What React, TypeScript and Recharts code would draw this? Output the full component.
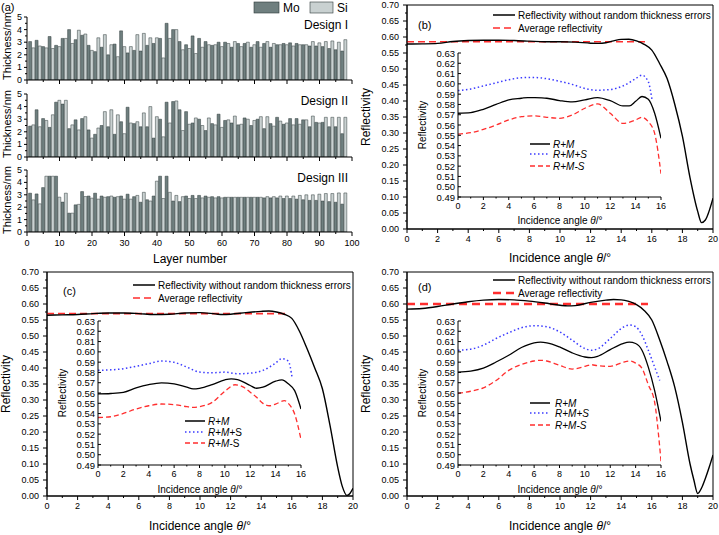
import React from 'react';
import { LineChart, Line, XAxis, YAxis, BarChart, Bar, ReferenceArea } from 'recharts';

const FONT = '"Liberation Sans", Arial, Helvetica, sans-serif';
const MO_COLOR = '#6f7f7f';
const SI_COLOR = '#c9d1d1';
const BAR_EDGE = '#2e3a3a';
const RED = '#ff2e2e';
const BLUE = '#3a3aff';

// ---------------- Panel (a): layer thickness (nm), odd layers Mo, even layers Si ----------------
const designI = [
  3.05, 2.55, 3.15, 2.7, 2.65, 2.55, 3.45, 2.5, 2.75, 2.65,
  3.3, 3.3, 4.0, 2.9, 3.2, 3.95, 3.55, 3.65, 2.75, 2.35,
  2.25, 3.35, 2.6, 3.6, 2.0, 2.8, 2.85, 1.85, 3.9, 2.65,
  2.15, 2.65, 2.35, 3.6, 2.3, 3.7, 2.75, 3.35, 2.9, 3.35,
  3.3, 1.75, 4.5, 3.3, 4.0, 4.0, 3.05, 2.4, 2.8, 2.5,
  3.5, 2.1, 3.3, 2.6, 3.05, 2.8, 2.75, 2.8, 3.0, 2.65,
  3.0, 2.9, 2.6, 3.05, 2.9, 2.65, 2.9, 3.0, 2.6, 2.8,
  3.05, 2.6, 2.9, 3.05, 2.6, 2.9, 2.8, 2.8, 2.9, 2.8,
  2.95, 2.7, 2.9, 2.8, 2.8, 2.8, 2.7, 3.05, 2.7, 2.95,
  2.65, 3.05, 2.5, 3.1, 2.4, 3.0, 2.3, 3.2,
];
const designII = [
  2.45, 2.55, 3.75, 2.4, 3.05, 2.9, 2.35, 3.35, 4.35, 4.5,
  4.2, 4.5, 2.25, 2.55, 2.95, 2.15, 3.05, 3.2, 2.15, 1.5,
  1.8, 2.3, 2.5, 3.6, 2.4, 3.75, 1.8, 3.35, 2.8, 1.85,
  3.95, 2.7, 2.65, 2.8, 2.4, 3.5, 2.4, 4.0, 1.5, 3.2,
  3.0, 1.6, 4.35, 2.7, 4.4, 4.45, 3.75, 2.1, 3.6, 2.6,
  2.7, 3.1, 3.0, 2.5, 2.1, 3.1, 2.65, 2.55, 3.4, 2.35,
  2.9, 2.95, 2.7, 3.25, 2.55, 2.6, 3.1, 3.0, 2.5, 2.9,
  3.0, 3.2, 2.25, 3.2, 2.65, 2.45, 3.15, 2.85, 2.6, 2.7,
  3.05, 2.55, 3.05, 2.6, 2.95, 2.95, 2.4, 3.25, 2.75, 2.7,
  2.75, 3.15, 2.4, 3.15, 2.4, 3.15, 1.85, 3.15,
];
const designIII = [
  3.13, 2.59, 3.07, 2.27, 3.58, 4.5, 4.5, 4.5, 4.5, 2.81,
  2.41, 3.13, 1.52, 1.52, 2.19, 2.23, 3.26, 2.86, 2.9, 2.73,
  3.13, 2.65, 2.9, 2.8, 2.85, 2.9, 2.8, 2.85, 2.9, 2.65,
  3.05, 2.65, 2.85, 2.95, 2.4, 3.2, 2.6, 2.5, 2.9, 4.1,
  4.5, 2.7, 4.5, 3.2, 2.5, 2.95, 2.45, 2.85, 2.9, 2.7,
  2.95, 2.7, 2.95, 2.75, 2.9, 2.8, 2.85, 2.75, 2.85, 2.75,
  2.8, 2.8, 2.8, 2.8, 2.8, 2.8, 2.8, 2.8, 2.8, 2.8,
  2.8, 2.8, 2.75, 2.85, 2.75, 2.85, 2.75, 2.9, 2.7, 2.9,
  2.7, 2.9, 2.65, 2.95, 2.6, 3.0, 2.55, 3.0, 2.55, 3.05,
  2.5, 3.1, 2.45, 3.1, 2.4, 3.15, 2.25, 3.15,
];
const layerTicks = [0, 5, 10, 15, 20, 25, 30, 35, 40, 45, 50, 55, 60, 65, 70, 75, 80, 85, 90, 95, 100];
const layerLabels = [0, 10, 20, 30, 40, 50, 60, 70, 80, 90, 100];
const thicknessTicks = [0, 0.5, 1, 1.5, 2, 2.5, 3, 3.5, 4, 4.5, 5];
const thicknessLabels = [0, 1, 2, 3, 4, 5];

// ---------------- Panels (b)-(d) ----------------
const mainAngleTicks = [0, 1, 2, 3, 4, 5, 6, 7, 8, 9, 10, 11, 12, 13, 14, 15, 16, 17, 18, 19, 20];
const mainAngleLabels = [0, 2, 4, 6, 8, 10, 12, 14, 16, 18, 20];
const mainReflTicks = [0, 0.025, 0.05, 0.075, 0.1, 0.125, 0.15, 0.175, 0.2, 0.225, 0.25, 0.275, 0.3, 0.325, 0.35,
  0.375, 0.4, 0.425, 0.45, 0.475, 0.5, 0.525, 0.55, 0.575, 0.6, 0.625, 0.65, 0.675, 0.7];
const mainReflLabels = [0, 0.05, 0.1, 0.15, 0.2, 0.25, 0.3, 0.35, 0.4, 0.45, 0.5, 0.55, 0.6, 0.65, 0.7];
const insetAngleTicks = [0, 1, 2, 3, 4, 5, 6, 7, 8, 9, 10, 11, 12, 13, 14, 15, 16];
const insetAngleLabels = [0, 2, 4, 6, 8, 10, 12, 14, 16];
const insetReflTicks = [0.49, 0.5, 0.51, 0.52, 0.53, 0.54, 0.55, 0.56, 0.57, 0.58, 0.59, 0.6, 0.61, 0.62, 0.63];
const insetReflLabels = ['0.49', '0.50', '0.51', '0.52', '0.53', '0.54', '0.55', '0.56', '0.57', '0.58', '0.59', '0.60', '0.61', '0.62', '0.63'];
const insetReflLabelsC = ['0.49', '0.50', '0.51', '0.52', '0.53', '0.54', '0.55', '0.56', '0.57', '0.58', '0.59', '0.60', '0.81', '0.62', '0.63'];

// (b)
const bAngles = [0, 1, 2, 3, 4, 5, 6, 7, 8, 9, 10, 11, 12, 12.5, 13, 13.5, 14, 14.5, 15, 15.5, 16, 16.5, 17, 17.5, 18, 18.5, 19, 19.25, 19.5, 20];
const bRefl = [0.578, 0.5785, 0.58, 0.586, 0.589, 0.59, 0.59, 0.589, 0.587, 0.585, 0.585, 0.584, 0.5805, 0.58, 0.582, 0.588, 0.5925, 0.593, 0.588, 0.577, 0.559, 0.518, 0.47, 0.39, 0.29, 0.16, 0.055, 0.02, 0.028, 0.096];
const bAvgAngles = [0, 15.75];
const bAvgRefl = [0.585, 0.585];
const bPlusSAngles = [0, 1, 2, 3, 4, 5, 6, 7, 8, 9, 10, 11, 12, 13, 14, 14.5, 15, 15.3];
const bPlusS = [0.5935, 0.595, 0.598, 0.601, 0.604, 0.606, 0.6062, 0.605, 0.6025, 0.5995, 0.5955, 0.5938, 0.5945, 0.598, 0.605, 0.6085, 0.602, 0.584];
const bRMAngles = [0, 1, 2, 3, 4, 5, 5.5, 6, 7, 8, 9, 10, 11, 12, 13, 13.5, 14, 14.5, 15, 15.5, 16];
const bRM = [0.5714, 0.572, 0.5753, 0.58, 0.5844, 0.586, 0.5867, 0.5866, 0.586, 0.5838, 0.5824, 0.5844, 0.5867, 0.5837, 0.5785, 0.5785, 0.583, 0.5877, 0.585, 0.5714, 0.547];
const bMinusSAngles = [0, 1, 2, 3, 4, 5, 6, 7, 8, 9, 10, 11, 12, 13, 14, 14.5, 15, 15.5, 16];
const bMinusS = [0.5512, 0.5525, 0.5557, 0.56, 0.5649, 0.5681, 0.5688, 0.5675, 0.5665, 0.5697, 0.5763, 0.5805, 0.5714, 0.5616, 0.5649, 0.5675, 0.5632, 0.5518, 0.5127];

// (c)
const cAngles = [0, 1, 2, 3, 4, 5, 6, 7, 8, 9, 10, 11, 11.5, 12, 13, 14, 14.5, 15, 15.5, 16, 16.5, 17, 17.5, 18, 18.5, 19, 19.3, 19.6, 19.8, 20];
const cRefl = [0.565, 0.566, 0.567, 0.57, 0.572, 0.572, 0.57, 0.567, 0.568, 0.572, 0.573, 0.569, 0.567, 0.568, 0.573, 0.577, 0.578, 0.575, 0.568, 0.555, 0.515, 0.46, 0.4, 0.335, 0.22, 0.09, 0.03, 0.002, 0.008, 0.024];
const cAvgAngles = [0, 15.75];
const cAvgRefl = [0.57, 0.57];
const cPlusSAngles = [0, 1, 2, 3, 4, 5, 6, 7, 8, 9, 10, 11, 12, 13, 14, 14.5, 15, 15.3];
const cPlusS = [0.582, 0.5825, 0.5836, 0.586, 0.5885, 0.5911, 0.5898, 0.5852, 0.5803, 0.5797, 0.5803, 0.5787, 0.5793, 0.582, 0.5891, 0.5934, 0.5911, 0.5748];
const cRMAngles = [0, 1, 2, 3, 4, 5, 6, 7, 7.5, 8, 9, 10, 10.5, 11, 12, 12.5, 13, 14, 14.5, 15, 15.5, 16];
const cRM = [0.5591, 0.5595, 0.5607, 0.565, 0.5682, 0.5699, 0.5689, 0.5656, 0.564, 0.5646, 0.5682, 0.5728, 0.5738, 0.5731, 0.5673, 0.5646, 0.5656, 0.5715, 0.5728, 0.5689, 0.5623, 0.5444];
const cMinusSAngles = [0, 1, 2, 3, 4, 5, 6, 7, 7.5, 8, 9, 10, 10.8, 11.5, 12, 12.5, 13, 13.5, 14, 14.7, 15, 15.5, 16];
const cMinusS = [0.5362, 0.5369, 0.5401, 0.5444, 0.5476, 0.5493, 0.5487, 0.5467, 0.546, 0.5467, 0.5509, 0.5617, 0.568, 0.5655, 0.5607, 0.5558, 0.5499, 0.5476, 0.5493, 0.5525, 0.5499, 0.5395, 0.515];

// (d)
const dAngles = [0, 1, 2, 3, 4, 5, 6, 7, 8, 9, 10, 10.5, 11, 12, 13, 13.5, 14, 14.5, 15, 15.5, 16, 16.5, 17, 17.5, 18, 18.5, 18.75, 19, 19.25, 19.5, 19.75, 20];
const dRefl = [0.584, 0.586, 0.592, 0.6, 0.607, 0.612, 0.614, 0.613, 0.609, 0.603, 0.596, 0.594, 0.595, 0.605, 0.612, 0.614, 0.613, 0.608, 0.598, 0.58, 0.55, 0.49, 0.42, 0.34, 0.23, 0.1, 0.05, 0.008, 0.025, 0.055, 0.09, 0.128];
const dAvgAngles = [0, 15.75];
const dAvgRefl = [0.6, 0.6];
const dPlusSAngles = [0, 1, 2, 3, 4, 5, 6, 7, 8, 9, 10, 10.5, 11, 12, 13, 13.5, 14, 14.5, 15, 15.5, 15.9];
const dPlusS = [0.6016, 0.6026, 0.6065, 0.613, 0.6186, 0.6235, 0.6254, 0.6244, 0.6195, 0.6114, 0.6032, 0.6016, 0.6029, 0.613, 0.6238, 0.6261, 0.6244, 0.6163, 0.6016, 0.5852, 0.5722];
const dRMAngles = [0, 1, 2, 3, 4, 5, 6, 6.5, 7, 8, 9, 10, 10.5, 11, 12, 13, 13.5, 14, 14.5, 15, 15.5, 16];
const dRM = [0.5803, 0.5813, 0.5842, 0.5901, 0.5967, 0.6042, 0.6088, 0.6094, 0.6088, 0.6048, 0.599, 0.595, 0.5944, 0.5957, 0.6022, 0.6081, 0.6094, 0.6081, 0.6016, 0.5852, 0.5624, 0.5323];
const dMinusSAngles = [0, 1, 2, 3, 4, 5, 6, 6.5, 7, 8, 9, 10, 10.5, 11, 12, 13, 13.5, 14, 14.5, 15, 15.5, 15.8, 16];
const dMinusS = [0.5597, 0.5617, 0.565, 0.5722, 0.582, 0.5878, 0.5911, 0.5918, 0.5911, 0.5869, 0.5833, 0.5859, 0.5875, 0.5865, 0.5859, 0.5898, 0.5911, 0.5891, 0.584, 0.568, 0.551, 0.52, 0.4937];

// ---------------- helpers ----------------
const pts = (xs: number[], ys: number[]) => xs.map((x, i) => ({ x, y: ys[i] }));
const near = (a: number, b: number) => Math.abs(a - b) < 1e-6;
const inList = (list: number[], v: number) => list.some((m) => near(m, v));

type TickCfg = {
  majors: number[];
  label: ((v: number) => string) | null;
  majorLen: number;
  minorLen: number;
  outward: boolean;
  gap: number;
  fontSize: number;
};

function bottomTick(cfg: TickCfg) {
  return (props: any) => {
    const { x, y, payload } = props;
    const v = Number(payload.value);
    const major = inList(cfg.majors, v);
    const len = major ? cfg.majorLen : cfg.minorLen;
    const s = cfg.outward ? 1 : -1;
    return (
      <g>
        {len > 0 && <line x1={x} x2={x} y1={y} y2={y + s * len} stroke="#000" strokeWidth={1} />}
        {major && cfg.label ? (
          <text x={x} y={y + cfg.gap} textAnchor="middle" dominantBaseline="central" fontSize={cfg.fontSize} fontFamily={FONT} fill="#000">
            {cfg.label(v)}
          </text>
        ) : null}
      </g>
    );
  };
}

function leftTick(cfg: TickCfg) {
  return (props: any) => {
    const { x, y, payload } = props;
    const v = Number(payload.value);
    const major = inList(cfg.majors, v);
    const len = major ? cfg.majorLen : cfg.minorLen;
    const s = cfg.outward ? 1 : -1;
    return (
      <g>
        {len > 0 && <line x1={x} x2={x - s * len} y1={y} y2={y} stroke="#000" strokeWidth={1} />}
        {major && cfg.label ? (
          <text x={x - cfg.gap} y={y} textAnchor="end" dominantBaseline="central" fontSize={cfg.fontSize} fontFamily={FONT} fill="#000">
            {cfg.label(v)}
          </text>
        ) : null}
      </g>
    );
  };
}

const mainXTick = bottomTick({ majors: mainAngleLabels, label: (v) => String(v), majorLen: 4, minorLen: 2, outward: true, gap: 10, fontSize: 9 });
const mainYTick = leftTick({ majors: mainReflLabels, label: (v) => v.toFixed(2), majorLen: 4, minorLen: 2, outward: true, gap: 8, fontSize: 9 });
const insetXTick = bottomTick({ majors: insetAngleLabels, label: (v) => String(v), majorLen: 3, minorLen: 1.5, outward: true, gap: 9, fontSize: 9 });
const insetYTick = (labels: string[]) =>
  leftTick({
    majors: insetReflTicks,
    label: (v) => labels[insetReflTicks.findIndex((t) => near(t, v))],
    majorLen: 3, minorLen: 0, outward: false, gap: 3, fontSize: 9.5,
  });
const barXTickNoLabel = bottomTick({ majors: layerLabels, label: null, majorLen: 4, minorLen: 2, outward: true, gap: 11, fontSize: 9 });
const barXTickLabel = bottomTick({ majors: layerLabels, label: (v) => String(v), majorLen: 4, minorLen: 2, outward: true, gap: 11, fontSize: 9 });
const barYTick = leftTick({ majors: thicknessLabels, label: (v) => String(v), majorLen: 3, minorLen: 2, outward: true, gap: 5, fontSize: 9 });

// ---------------- components ----------------
function ThicknessPanel({ top, values, height, xHeight, labels }: { top: number; values: number[]; height: number; xHeight: number; labels: boolean }) {
  const rows = values.map((v, i) => ({
    layer: i + 1,
    mo: (i + 1) % 2 === 1 ? v : null,
    si: (i + 1) % 2 === 0 ? v : null,
  }));
  return (
    <div style={{ position: 'absolute', left: 0, top }}>
      <BarChart width={366} height={height} data={rows} margin={{ top: 7, right: 14, bottom: 0, left: 0 }} barGap={0}>
        <XAxis type="number" dataKey="layer" domain={[0, 100]} ticks={layerTicks} interval={0} tickSize={0} tickMargin={0}
          tickLine={false} axisLine={{ stroke: '#000' }} height={xHeight} tick={labels ? barXTickLabel : barXTickNoLabel} allowDataOverflow />
        <YAxis type="number" domain={[0, 5]} ticks={thicknessTicks} interval={0} tickSize={0} tickMargin={0}
          tickLine={false} axisLine={{ stroke: '#000' }} width={27} tick={barYTick} allowDataOverflow />
        <Bar dataKey="mo" stackId="t" fill={MO_COLOR} stroke={BAR_EDGE} strokeWidth={0.5} barSize={3.4} isAnimationActive={false} />
        <Bar dataKey="si" stackId="t" fill={SI_COLOR} stroke={BAR_EDGE} strokeWidth={0.5} barSize={3.4} isAnimationActive={false} />
      </BarChart>
    </div>
  );
}

function MainPanel({ left, top, curve, avg, avgWidth, avgDash }: any) {
  return (
    <div style={{ position: 'absolute', left, top }}>
      <LineChart width={359} height={259} margin={{ top: 5, right: 6, bottom: 0, left: 0 }}>
        <XAxis type="number" dataKey="x" domain={[0, 20]} ticks={mainAngleTicks} interval={0} tickSize={0} tickMargin={0}
          tickLine={false} axisLine={{ stroke: '#000' }} height={30} tick={mainXTick} allowDataOverflow />
        <YAxis type="number" domain={[0, 0.7]} ticks={mainReflTicks} interval={0} tickSize={0} tickMargin={0}
          tickLine={false} axisLine={{ stroke: '#000' }} width={47} tick={mainYTick} allowDataOverflow />
        <ReferenceArea x1={0} x2={20} y1={0} y2={0.7} fill="none" fillOpacity={0} stroke="#000" strokeWidth={1} ifOverflow="visible" />
        <Line data={avg} dataKey="y" type="linear" stroke={RED} strokeWidth={avgWidth} strokeDasharray={avgDash} dot={false} isAnimationActive={false} />
        <Line data={curve} dataKey="y" type="monotone" stroke="#000" strokeWidth={1.4} dot={false} isAnimationActive={false} />
      </LineChart>
    </div>
  );
}

function InsetPanel({ left, top, rm, plus, minus, labels }: any) {
  return (
    <div style={{ position: 'absolute', left, top }}>
      <LineChart width={256} height={182} margin={{ top: 8, right: 5, bottom: 0, left: 0 }}>
        <XAxis type="number" dataKey="x" domain={[0, 16]} ticks={insetAngleTicks} interval={0} tickSize={0} tickMargin={0}
          tickLine={false} axisLine={{ stroke: '#000' }} height={30} tick={insetXTick} allowDataOverflow />
        <YAxis type="number" domain={[0.49, 0.63]} ticks={insetReflTicks} interval={0} tickSize={0} tickMargin={0}
          tickLine={false} axisLine={{ stroke: '#000' }} width={48} tick={insetYTick(labels)} allowDataOverflow />
        <Line data={plus} dataKey="y" type="monotone" stroke={BLUE} strokeWidth={1.5} strokeDasharray="1.5 2.5" dot={false} isAnimationActive={false} />
        <Line data={minus} dataKey="y" type="monotone" stroke={RED} strokeWidth={1.3} strokeDasharray="5 3" dot={false} isAnimationActive={false} />
        <Line data={rm} dataKey="y" type="monotone" stroke="#000" strokeWidth={1.3} dot={false} isAnimationActive={false} />
      </LineChart>
    </div>
  );
}

const T = (p: any) => <text fontFamily={FONT} fill="#000" dominantBaseline="central" {...p} />;

function AngleTitle({ x, y, size }: { x: number; y: number; size: number }) {
  return (
    <T x={x} y={y} textAnchor="middle" fontSize={size}>
      Incidence angle <tspan fontStyle="italic">θ</tspan>/°
    </T>
  );
}

function VTitle({ x, y, size, text }: { x: number; y: number; size: number; text: string }) {
  return (
    <T x={x} y={y} textAnchor="middle" fontSize={size} transform={`rotate(-90 ${x} ${y})`}>
      {text}
    </T>
  );
}

function MainLegend({ x, y1, y2, avgWidth, avgDash }: any) {
  return (
    <g>
      <line x1={x} x2={x + 22} y1={y1} y2={y1} stroke="#000" strokeWidth={1.5} />
      <T x={x + 25} y={y1} fontSize={10}>Reflectivity without random thickness errors</T>
      <line x1={x} x2={x + 22} y1={y2} y2={y2} stroke={RED} strokeWidth={avgWidth} strokeDasharray={avgDash} />
      <T x={x + 25} y={y2} fontSize={10}>Average reflectivity</T>
    </g>
  );
}

function InsetLegend({ x, ys, tx, allItalic }: { x: number; ys: number[]; tx: number; allItalic: boolean }) {
  const it = (s: string) => <tspan fontStyle="italic">{s}</tspan>;
  const sPart = (sign: string) =>
    allItalic ? it(sign + 'S') : <tspan>{sign}S</tspan>;
  return (
    <g>
      <line x1={x} x2={x + 20} y1={ys[0]} y2={ys[0]} stroke="#000" strokeWidth={1.5} />
      <line x1={x} x2={x + 20} y1={ys[1]} y2={ys[1]} stroke={BLUE} strokeWidth={1.5} strokeDasharray="1.5 2.5" />
      <line x1={x} x2={x + 20} y1={ys[2]} y2={ys[2]} stroke={RED} strokeWidth={1.3} strokeDasharray="5 3" />
      <T x={tx} y={ys[0]} fontSize={10}>{it('R')}{allItalic ? it('+') : '+'}{it('M')}</T>
      <T x={tx} y={ys[1]} fontSize={10}>{it('R')}{allItalic ? it('+') : '+'}{it('M')}{sPart('+')}</T>
      <T x={tx} y={ys[2]} fontSize={10}>{it('R')}{allItalic ? it('+') : '+'}{it('M')}{sPart('-')}</T>
    </g>
  );
}

export default function App() {
  return (
    <div style={{ position: 'absolute', left: 0, top: 0, width: 719, height: 535, background: '#fff', fontFamily: FONT, overflow: 'hidden' }}>
      <ThicknessPanel top={10} values={designI} height={78} xHeight={8} labels={false} />
      <ThicknessPanel top={87} values={designII} height={78} xHeight={8} labels={false} />
      <ThicknessPanel top={163} values={designIII} height={87} xHeight={18} labels={true} />

      <MainPanel left={360} top={0} curve={pts(bAngles, bRefl)} avg={pts(bAvgAngles, bAvgRefl)} avgWidth={1.6} avgDash="7 4" />
      <MainPanel left={0} top={267} curve={pts(cAngles, cRefl)} avg={pts(cAvgAngles, cAvgRefl)} avgWidth={1.6} avgDash="7 4" />
      <MainPanel left={360} top={267} curve={pts(dAngles, dRefl)} avg={pts(dAvgAngles, dAvgRefl)} avgWidth={2.6} avgDash="8 5" />

      <InsetPanel left={410} top={45} rm={pts(bRMAngles, bRM)} plus={pts(bPlusSAngles, bPlusS)} minus={pts(bMinusSAngles, bMinusS)} labels={insetReflLabels} />
      <InsetPanel left={50} top={313} rm={pts(cRMAngles, cRM)} plus={pts(cPlusSAngles, cPlusS)} minus={pts(cMinusSAngles, cMinusS)} labels={insetReflLabelsC} />
      <InsetPanel left={410} top={313} rm={pts(dRMAngles, dRM)} plus={pts(dPlusSAngles, dPlusS)} minus={pts(dMinusSAngles, dMinusS)} labels={insetReflLabels} />

      <svg width={719} height={535} style={{ position: 'absolute', left: 0, top: 0, pointerEvents: 'none', zIndex: 2 }}>
        {/* panel (a) */}
        <T x={1} y={7} fontSize={11}>(a)</T>
        <rect x={254} y={2} width={25} height={11} fill={MO_COLOR} stroke={BAR_EDGE} strokeWidth={0.6} />
        <T x={283} y={8} fontSize={12}>Mo</T>
        <rect x={310} y={2} width={23} height={11} fill={SI_COLOR} stroke={BAR_EDGE} strokeWidth={0.6} />
        <T x={337} y={8} fontSize={12}>Si</T>
        <T x={348} y={25} fontSize={12} textAnchor="end">Design I</T>
        <T x={348} y={101} fontSize={12} textAnchor="end">Design II</T>
        <T x={348} y={178} fontSize={12} textAnchor="end">Design III</T>
        <VTitle x={7} y={46} size={11} text="Thickness/nm" />
        <VTitle x={7} y={124} size={11} text="Thickness/nm" />
        <VTitle x={7} y={200} size={11} text="Thickness/nm" />
        <T x={190} y={259} fontSize={12} textAnchor="middle">Layer number</T>

        {/* panel (b) */}
        <T x={418} y={25} fontSize={11}>(b)</T>
        <MainLegend x={493} y1={15} y2={28} avgWidth={1.6} avgDash="7 4" />
        <VTitle x={366} y={117} size={12} text="Reflectivity" />
        <AngleTitle x={560} y={258} size={12} />
        <VTitle x={422} y={125} size={10} text="Reflectivity" />
        <AngleTitle x={560} y={220} size={10} />
        <InsetLegend x={530} ys={[144, 154, 166]} tx={553} allItalic={true} />

        {/* panel (c) */}
        <T x={63} y={291} fontSize={11}>(c)</T>
        <MainLegend x={133} y1={285} y2={298} avgWidth={1.6} avgDash="7 4" />
        <VTitle x={6} y={384} size={12} text="Reflectivity" />
        <AngleTitle x={200} y={526} size={12} />
        <VTitle x={62} y={393} size={10} text="Reflectivity" />
        <AngleTitle x={200} y={489} size={10} />
        <InsetLegend x={185} ys={[421, 432, 443]} tx={208} allItalic={false} />

        {/* panel (d) */}
        <T x={418} y={287} fontSize={11}>(d)</T>
        <MainLegend x={493} y1={280} y2={293} avgWidth={2.6} avgDash="8 5" />
        <VTitle x={366} y={384} size={12} text="Reflectivity" />
        <AngleTitle x={560} y={526} size={12} />
        <VTitle x={422} y={393} size={10} text="Reflectivity" />
        <AngleTitle x={560} y={489} size={10} />
        <InsetLegend x={530} ys={[403, 413, 425]} tx={555} allItalic={true} />
      </svg>
    </div>
  );
}
